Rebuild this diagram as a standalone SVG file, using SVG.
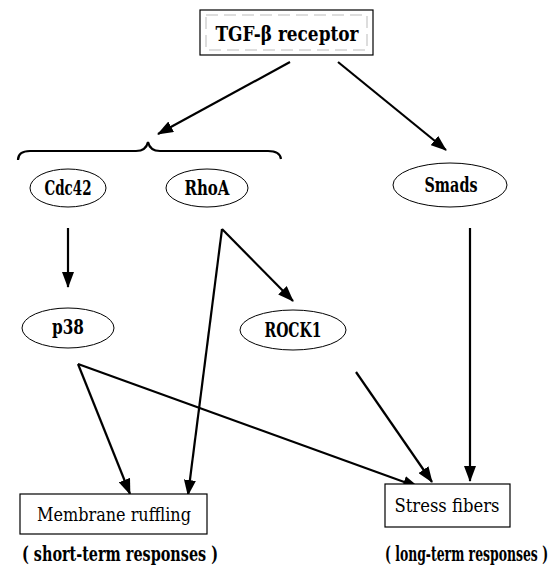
<svg xmlns="http://www.w3.org/2000/svg" width="559" height="572" viewBox="0 0 559 572">
<style>
text{font-family:'DejaVu Serif Condensed','DejaVu Serif',serif;font-stretch:condensed;fill:#000;text-anchor:middle}
.nodeb{font-weight:bold;font-size:20px}
.noder{font-weight:normal;font-size:19px}
.ell{fill:#fff;stroke:#000;stroke-width:1}
.box{fill:#fff;stroke:#000;stroke-width:1.2}
.edge{fill:none;stroke:#000;stroke-width:2.2}
</style>
<defs>
<marker id="ah" markerWidth="16" markerHeight="12" refX="15" refY="6" orient="auto" markerUnits="userSpaceOnUse">
<path d="M0,0 L16,6 L0,12 Z" fill="#000"/>
</marker>
</defs>
<rect width="559" height="572" fill="#fff"/>
<g id="connectors">
<path class="edge" d="M290,62 L158,134" marker-end="url(#ah)"/>
<path class="edge" d="M338,62 L446,150" marker-end="url(#ah)"/>
<path class="edge" d="M18,160 Q18,151 30,151 L136,151 Q146,151 148,142 Q150,151 160,151 L268,151 Q280,151 281,159" stroke-width="2"/>
<path class="edge" d="M68,228 L68,287" marker-end="url(#ah)"/>
<path class="edge" d="M222,229 L188,495" marker-end="url(#ah)"/>
<path class="edge" d="M222,229 L293,301" marker-end="url(#ah)"/>
<path class="edge" d="M78,364 L130,494" marker-end="url(#ah)"/>
<path class="edge" d="M78,364 L418,487" marker-end="url(#ah)"/>
<path class="edge" d="M356,372 L432,482" marker-end="url(#ah)"/>
<path class="edge" d="M470,228 L470,481" marker-end="url(#ah)"/>
</g>
<g id="tgf">
<rect class="box" x="200" y="10" width="173" height="45"/>
<rect x="206" y="15" width="161" height="35" fill="none" stroke="#aaa" stroke-width="0.8" stroke-dasharray="12,6"/>
<text class="nodeb" x="287" y="41" font-size="21" textLength="143" lengthAdjust="spacingAndGlyphs">TGF-β receptor</text>
</g>
<g id="cdc42">
<ellipse class="ell" cx="68" cy="188" rx="38" ry="19"/>
<text class="nodeb" x="68" y="195" textLength="47" lengthAdjust="spacingAndGlyphs">Cdc42</text>
</g>
<g id="rhoa">
<ellipse class="ell" cx="207" cy="188" rx="41" ry="19"/>
<text class="nodeb" x="207" y="195" textLength="45" lengthAdjust="spacingAndGlyphs">RhoA</text>
</g>
<g id="smads">
<ellipse class="ell" cx="450" cy="185" rx="57" ry="22"/>
<text class="nodeb" x="451" y="192" textLength="53" lengthAdjust="spacingAndGlyphs">Smads</text>
</g>
<g id="p38">
<ellipse class="ell" cx="68" cy="328" rx="46" ry="20"/>
<text class="nodeb" x="68" y="334" textLength="32" lengthAdjust="spacingAndGlyphs">p38</text>
</g>
<g id="rock1">
<ellipse class="ell" cx="293" cy="330" rx="53" ry="20"/>
<text class="nodeb" x="293" y="337" textLength="57" lengthAdjust="spacingAndGlyphs">ROCK1</text>
</g>
<g id="membrane">
<rect class="box" x="20" y="494" width="187" height="40"/>
<text class="noder" x="114" y="521" textLength="154" lengthAdjust="spacingAndGlyphs">Membrane ruffling</text>
</g>
<g id="stress">
<rect class="box" x="385" y="484" width="125" height="43"/>
<text class="noder" x="447" y="512" textLength="105" lengthAdjust="spacingAndGlyphs">Stress fibers</text>
</g>
<g id="labels">
<text class="nodeb" x="22" y="561" style="text-anchor:start" textLength="196" lengthAdjust="spacingAndGlyphs">( short-term responses )</text>
<text class="nodeb" x="548" y="561" font-size="18" style="text-anchor:end" textLength="163" lengthAdjust="spacingAndGlyphs">( long-term responses )</text>
</g>
</svg>
